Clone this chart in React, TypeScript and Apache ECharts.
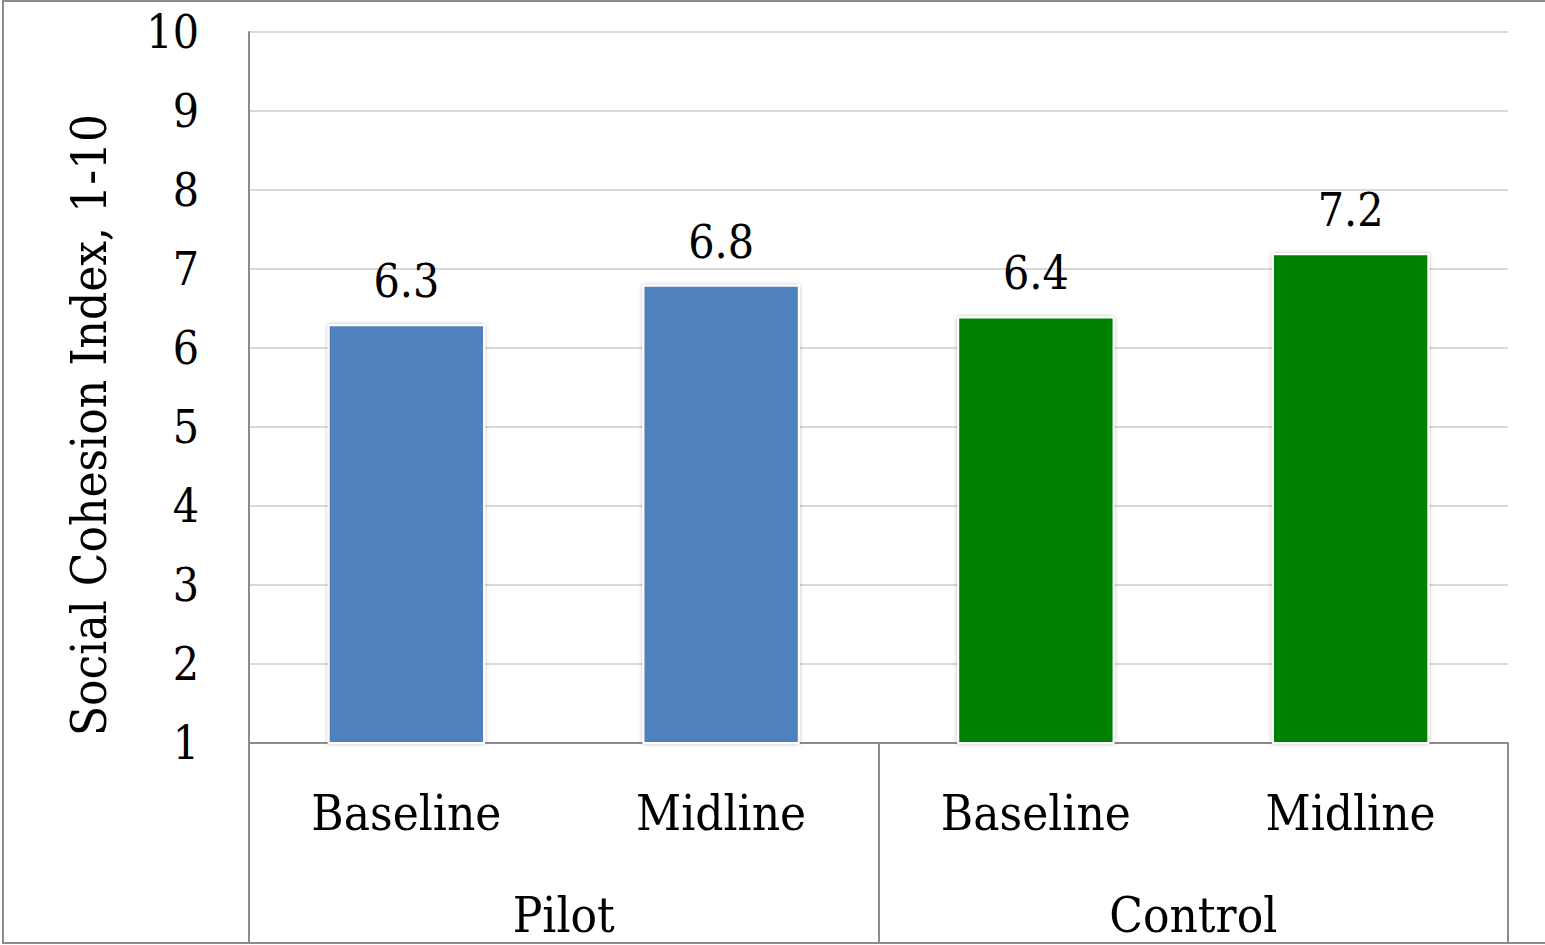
import React, { useEffect, useRef } from "react";
import * as echarts from "echarts";

const categories = ["Baseline", "Midline", "Baseline", "Midline"];
const groups = ["Pilot", "Control"];
const values = [6.3, 6.8, 6.4, 7.2];
const barColors = ["#4F81BD", "#4F81BD", "#008000", "#008000"];
const yTitle = "Social Cohesion Index, 1-10";
const yMin = 1;
const yMax = 10;

const FONT = "'DejaVu Serif Condensed', 'DejaVu Serif', serif";

export default function App() {
  const ref = useRef<HTMLDivElement>(null);
  useEffect(() => {
    if (!ref.current) return;
    const chart = echarts.init(ref.current, undefined, { renderer: "svg" });
    chart.setOption({
      animation: false,
      backgroundColor: "#ffffff",
      grid: { left: 249, right: 37, top: 32, bottom: 202, containLabel: false },
      graphic: [
        {
          type: "rect",
          shape: { x: 3, y: 1, width: 1600, height: 942 },
          style: { fill: "none", stroke: "#8c8c8c", lineWidth: 2 },
          silent: true,
        },
        {
          type: "text",
          x: 89,
          y: 425,
          rotation: Math.PI / 2,
          style: {
            text: yTitle,
            font: `49px ${FONT}`,
            fill: "#000",
            align: "center",
            verticalAlign: "middle",
          },
        },
      ],
      xAxis: [
        {
          type: "category",
          data: categories,
          position: "bottom",
          axisLine: { show: true, lineStyle: { color: "#8c8c8c", width: 2 } },
          axisTick: { show: false },
          axisLabel: {
            margin: 46,
            fontFamily: FONT,
            fontSize: 49,
            color: "#000",
          },
          splitLine: { show: false },
        },
        {
          type: "category",
          data: groups,
          position: "bottom",
          axisLine: { show: false },
          axisTick: {
            show: true,
            length: 200,
            lineStyle: { color: "#8c8c8c", width: 2 },
          },
          axisLabel: {
            margin: 148,
            fontFamily: FONT,
            fontSize: 49,
            color: "#000",
          },
        },
      ],
      yAxis: {
        type: "value",
        min: yMin,
        max: yMax,
        interval: 1,
        axisLine: { show: true, lineStyle: { color: "#8c8c8c", width: 2 } },
        axisTick: { show: false },
        axisLabel: {
          margin: 50,
          fontFamily: FONT,
          fontSize: 46,
          color: "#000",
          padding: [6, 0, 0, 0],
        },
        splitLine: { show: true, lineStyle: { color: "#d9d9d9", width: 2 } },
      },
      series: [
        {
          type: "bar",
          xAxisIndex: 0,
          barWidth: "50%",
          data: values.map((v, i) => ({
            value: v,
            itemStyle: { color: barColors[i] },
          })),
          itemStyle: {
            borderColor: "#ffffff",
            borderWidth: 2,
            shadowColor: "rgba(0,0,0,0.25)",
            shadowBlur: 4,
          },
          label: {
            show: true,
            position: "top",
            distance: 20,
            fontFamily: FONT,
            fontSize: 46,
            color: "#000",
            formatter: (p: any) => p.value.toFixed(1),
          },
        },
      ],
    });
    return () => chart.dispose();
  }, []);
  return (
    <div
      ref={ref}
      style={{ position: "fixed", left: 0, top: 0, width: 1545, height: 945 }}
    />
  );
}
